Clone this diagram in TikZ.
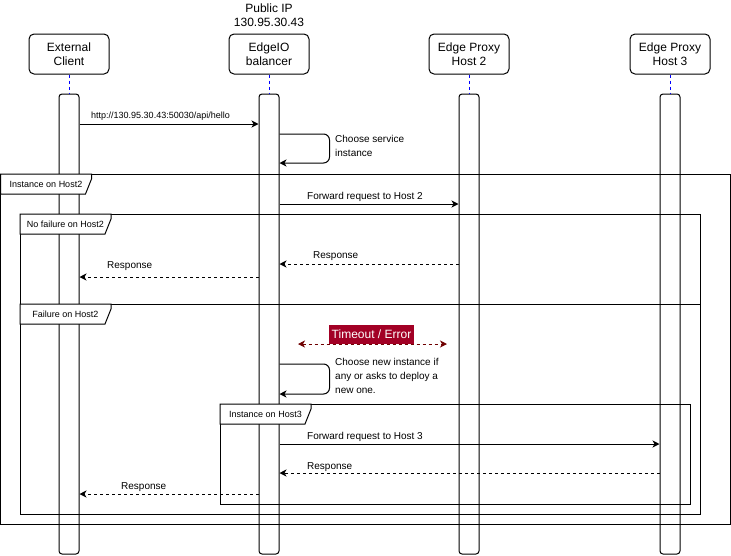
\documentclass[tikz,border=0pt]{standalone}
\usepackage{fontspec}
\setmainfont{Liberation Sans}
\usetikzlibrary{arrows.meta,positioning}
\definecolor{errbox}{HTML}{A20025}
\definecolor{errline}{HTML}{6F0000}
\definecolor{lifeblue}{HTML}{0000FF}
\tikzset{
 actor/.style={draw, line width=1pt, rounded corners=5pt, minimum width=80pt, minimum height=40pt, inner sep=0pt, align=center, font=\fontsize{12}{14}\selectfont},
 actbar/.style={draw, line width=1pt, rounded corners=3pt, minimum width=20pt, minimum height=460pt, inner sep=0pt},
 lifeline/.style={draw=lifeblue, line width=0.8pt, dash pattern=on 3pt off 3pt},
 msg/.style={line width=1pt, -{Stealth[length=7pt,width=7pt,inset=2pt]}},
 reply/.style={msg, dash pattern=on 3pt off 3pt},
 selfmsg/.style={msg, rounded corners=6pt},
 txt/.style={font=\fontsize{10}{14}\selectfont, inner sep=0pt, anchor=base west},
 smalltxt/.style={txt, font=\fontsize{9}{11}\selectfont},
 notetxt/.style={font=\fontsize{10}{14}\selectfont, inner sep=0pt, anchor=north west, align=left},
 tabtxt/.style={font=\fontsize{9}{11}\selectfont, inner sep=0pt},
 errlbl/.style={fill=errbox, text=white, font=\fontsize{12}{14}\selectfont, minimum width=85pt, minimum height=19pt, inner sep=0pt},
 errmsg/.style={draw=errline, line width=1pt, dash pattern=on 3pt off 3pt, {Stealth[length=7pt,width=7pt,inset=2pt]}-{Stealth[length=7pt,width=7pt,inset=2pt]}}
}
\begin{document}
\begin{tikzpicture}[x=1pt,y=-1pt]
\useasboundingbox (0,0) rectangle (731,555);
%%%%%lifelines start here
\def\ytop{54}
\def\ybar{324}
\foreach \x/\n/\t in {69/client/External\\Client, 269/edge/EdgeIO\\balancer, 469/hosttwo/Edge Proxy\\Host 2, 670/hostthree/Edge Proxy\\Host 3}
{
 \node[actor] (\n) at (\x,\ytop) {\t};
 \node[actbar] (\n bar) at (\x,\ybar) {};
 \draw[lifeline] (\n.south) -- (\n bar.north);
}
\node[font=\fontsize{12}{14}\selectfont, align=center, inner sep=0pt] (pubip) at (269,15) {Public IP\\130.95.30.43};
%%%%%lifelines end here

% message levels
\coordinate (y1) at (0,124);
\coordinate (y2) at (0,204);
\coordinate (y3) at (0,264);
\coordinate (y4) at (0,277);
\coordinate (y5) at (0,444);
\coordinate (y6) at (0,473);
\coordinate (y7) at (0,494);

\draw[msg] (clientbar.east |- y1) -- (edgebar.west |- y1);
\node[smalltxt] (url) at (91,118.5) {http://130.95.30.43:50030/api/hello};

\draw[selfmsg] (edgebar.east |- 0,134) -- ++(50,0) -- ++(0,29) -- (edgebar.east |- 0,163);
\node[notetxt] (choose) at (335,135) {Choose service\\instance};

%%%%%frames start here
\draw[line width=1pt] (0.5,174) rectangle (730,524);
\draw[line width=1pt] (20,214) rectangle (700,514);
\draw[line width=1pt] (20,304) -- (700,304);
\draw[line width=1pt] (220,404) rectangle (690,504);
\foreach \x/\y/\t [count=\i] in {0.5/174/Instance on Host2, 20/214/No failure on Host2, 20/304/Failure on Host2, 220/404/Instance on Host3}
{
 \draw[line width=1pt, fill=white] (\x,\y) -- ++(91,0) -- ++(0,5) -- ++(-6,15) -- (\x,\y+20) -- cycle;
 \node[tabtxt] (tab\i) at (\x+45.5,\y+10.5) {\t};
}
%%%%%frames end here

\draw[msg] (edgebar.east |- y2) -- (hosttwobar.west |- y2);
\node[txt] (fwdtwo) at (307,199.5) {Forward request to Host 2};

\draw[reply] (hosttwobar.west |- y3) -- (edgebar.east |- y3);
\node[txt] (resptwo) at (313,258.5) {Response};
\draw[reply] (edgebar.west |- y4) -- (clientbar.east |- y4);
\node[txt] (respone) at (107,268.5) {Response};

\coordinate (errL) at (298,344);
\coordinate (errR) at (447,344);
\draw[errmsg] (errL) -- (errR);
\node[errlbl, anchor=south] (timeout) at (371.5,344) {Timeout / Error};

\draw[selfmsg] (edgebar.east |- 0,364) -- ++(50,0) -- ++(0,30) -- (edgebar.east |- 0,394);
\node[notetxt] (newinst) at (335,358) {Choose new instance if\\any or asks to deploy a\\new one.};

\draw[msg] (edgebar.east |- y5) -- (hostthreebar.west |- y5);
\node[txt] (fwdthree) at (307,439.5) {Forward request to Host 3};
\draw[reply] (hostthreebar.west |- y6) -- (edgebar.east |- y6);
\node[txt] (respthree) at (307,469) {Response};
\draw[reply] (edgebar.west |- y7) -- (clientbar.east |- y7);
\node[txt] (respfour) at (121,489) {Response};
\end{tikzpicture}
\end{document}
